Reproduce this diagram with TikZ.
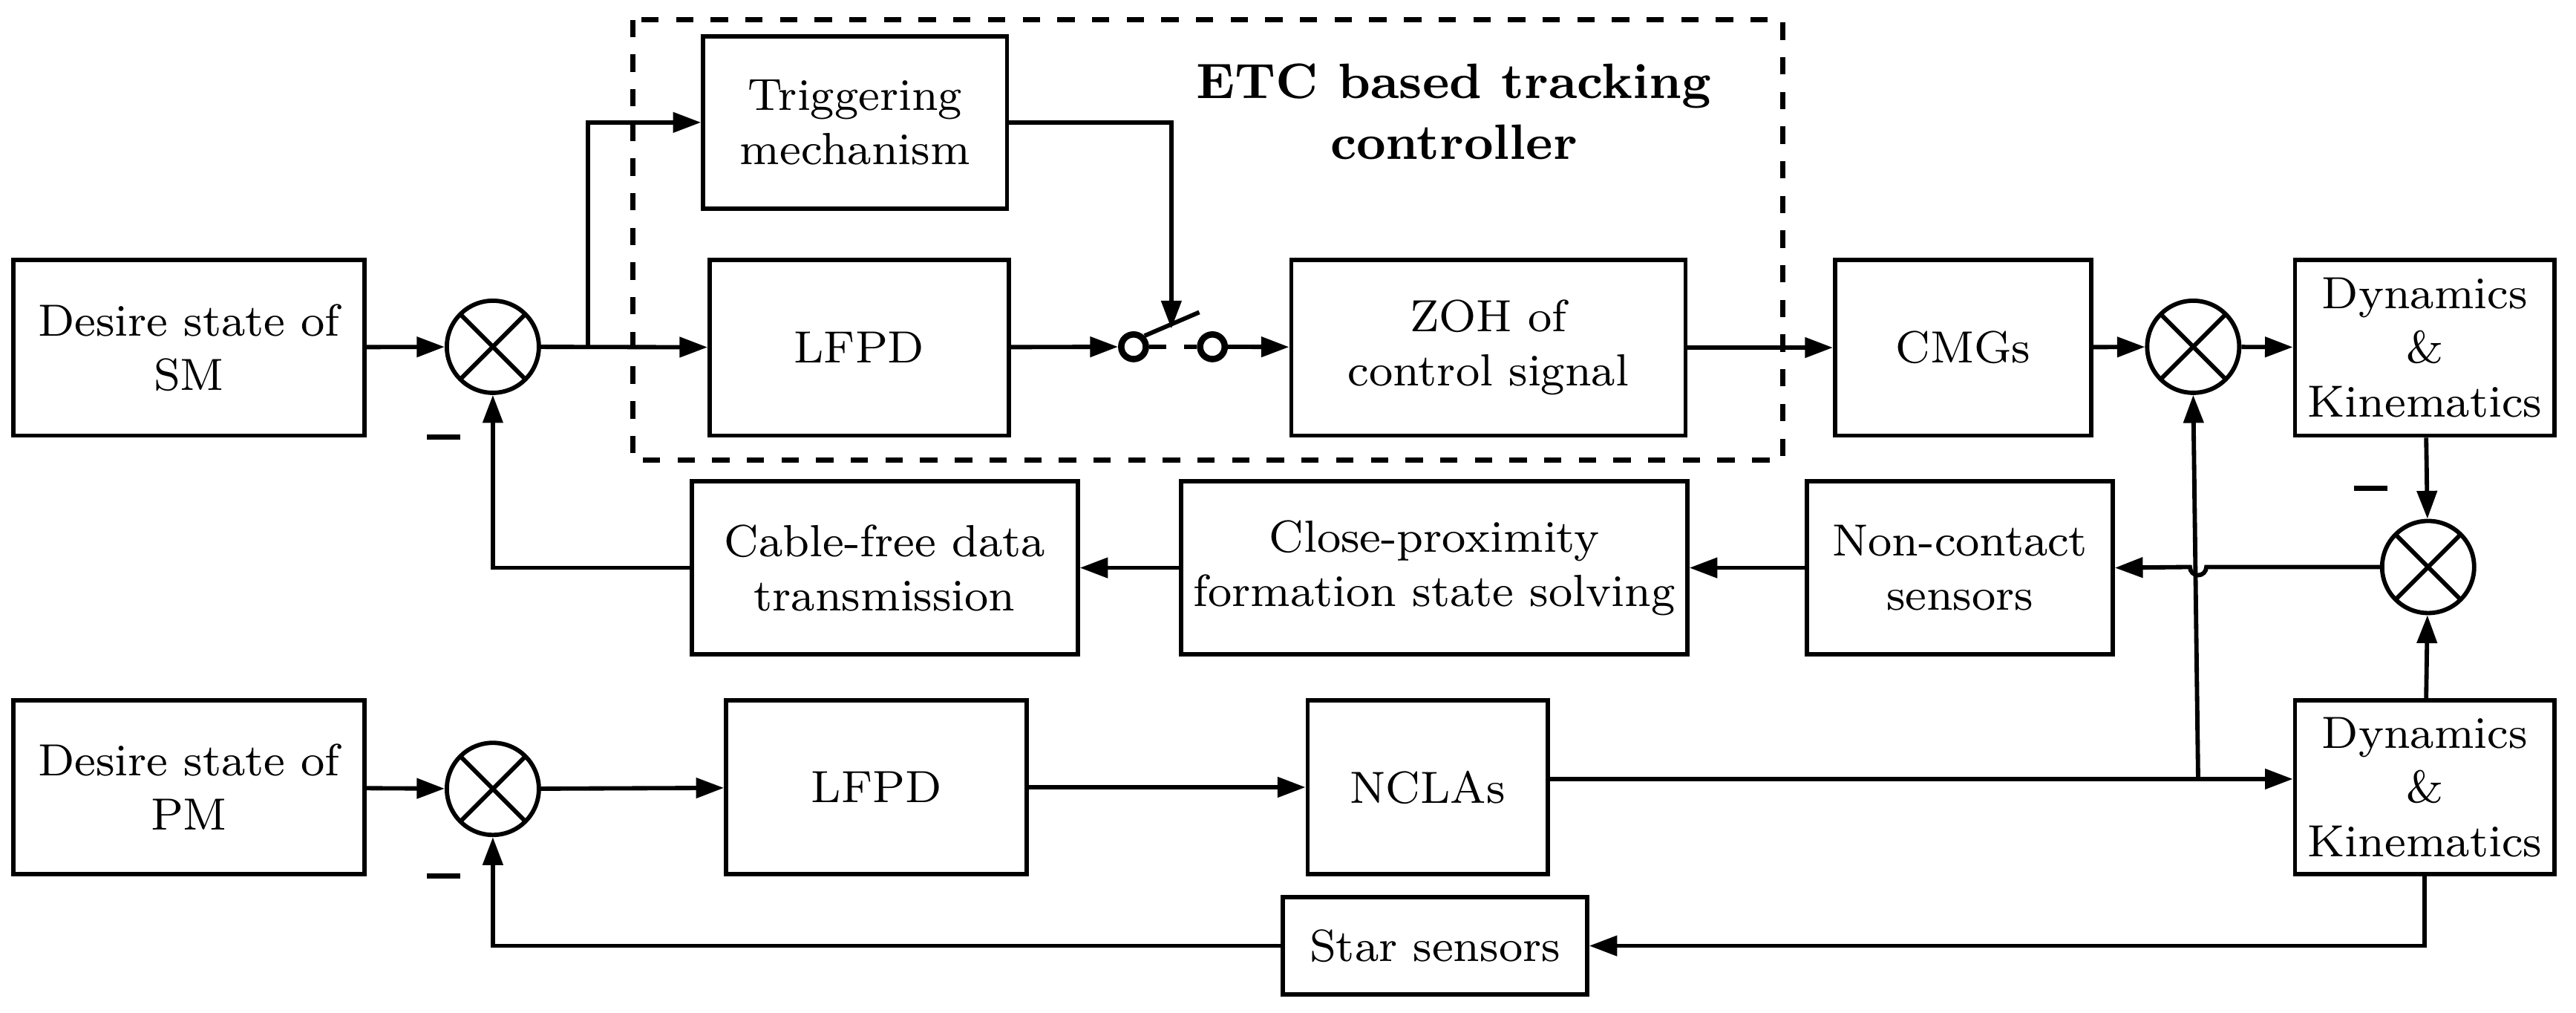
\documentclass[tikz,border=0pt]{standalone}
\usetikzlibrary{arrows.meta}
\begin{document}
\begin{tikzpicture}[x=0.01cm,y=-0.01cm,line width=0.75pt,
  blk/.style={draw,rectangle,align=center,font=\fontsize{7.8}{9.4}\selectfont,inner sep=0pt},
  sumn/.style={draw,circle,minimum size=0.56cm,inner sep=0pt,path picture={\draw (path picture bounding box.north west)--(path picture bounding box.south east) (path picture bounding box.north east)--(path picture bounding box.south west);}},
  arr/.style={-{Triangle[length=0.17cm,width=0.12cm]}},
  sw/.style={draw,circle,minimum size=0.15cm,inner sep=0pt,line width=1.1pt}]
\useasboundingbox (0,0) rectangle (1568,616);
\def\bx#1#2#3#4#5#6{\node[blk,minimum width={(#4-#2)*0.01cm},minimum height={(#5-#3)*0.01cm}] (#1) at ({(#2+#4)/2},{(#3+#5)/2}) {#6};}
\draw[dashed,line width=0.9pt] (385,12) rectangle (1085,280);
\node[font=\bfseries\fontsize{8.6}{10.5}\selectfont,align=center] (etc) at (885,68) {ETC based tracking\\controller};
\bx{dsm}{8}{158}{222}{265}{Desire state of\\SM}
\bx{trig}{428}{22}{613}{127}{Triggering\\mechanism}
\bx{lf1}{432}{158}{614}{265}{LFPD}
\bx{zoh}{786}{158}{1026}{265}{ZOH of\\control signal}
\bx{cmg}{1117}{158}{1273}{265}{CMGs}
\bx{dy1}{1397}{158}{1555}{265}{Dynamics\\\&\\Kinematics}
\bx{nc}{1100}{293}{1286}{398}{Non-contact\\sensors}
\bx{cp}{719}{293}{1027}{398}{Close-proximity\\formation state solving}
\bx{cf}{421}{293}{656}{398}{Cable-free data\\transmission}
\bx{dpm}{8}{426}{222}{532}{Desire state of\\PM}
\bx{lf2}{442}{426}{625}{532}{LFPD}
\bx{ncl}{796}{426}{942}{532}{NCLAs}
\bx{dy2}{1397}{426}{1555}{532}{Dynamics\\\&\\Kinematics}
\bx{star}{781}{546}{966}{605}{Star sensors}
\node[sumn] (s1) at (300,211) {};
\node[sumn] (s2) at (1335,211) {};
\node[sumn] (s3) at (1478,345) {};
\node[sumn] (s4) at (300,480) {};
\node[sw] (swa) at (690,211) {};
\node[sw] (swb) at (738,211) {};
\draw (swa.north east) -- (730,190);
\draw[dashed] (swa.east) -- (swb.west);
\coordinate (sp) at (713,200);
\foreach \p in {(270,266),(270,533),(1443,297)} \draw[line width=0.9pt] \p ++(-10,0) -- ++(20,0);
\draw[arr] (dsm) -- (s1);
\draw[arr] (s1) -- (lf1);
\draw[arr] (358,211) |- (trig.west);
\draw[arr] (trig.east) -| (sp);
\draw[arr] (lf1) -- (swa);
\draw[arr] (swb) -- (zoh);
\draw[arr] (zoh) -- (cmg);
\draw[arr] (cmg) -- (s2);
\draw[arr] (s2) -- (dy1);
\draw[arr] (dy1) -- (s3);
\draw[arr] (s3.west) -- (1343,345) arc (0:180:5) -- (nc.east);
\draw[arr] (nc) -- (cp);
\draw[arr] (cp) -- (cf);
\draw[arr] (cf.west) -| (s1.south);
\draw[arr] (dpm) -- (s4);
\draw[arr] (s4) -- (lf2);
\draw[arr] (lf2) -- (ncl);
\draw[arr] (ncl.east |- 0,474) -- (dy2.west |- 0,474);
\draw[arr] (1338,474) -- (s2.south);
\draw[arr] (dy2) -- (s3);
\draw[arr] (dy2.south) |- (star.east);
\draw[arr] (star.west) -| (s4.south);
\end{tikzpicture}
\end{document}
